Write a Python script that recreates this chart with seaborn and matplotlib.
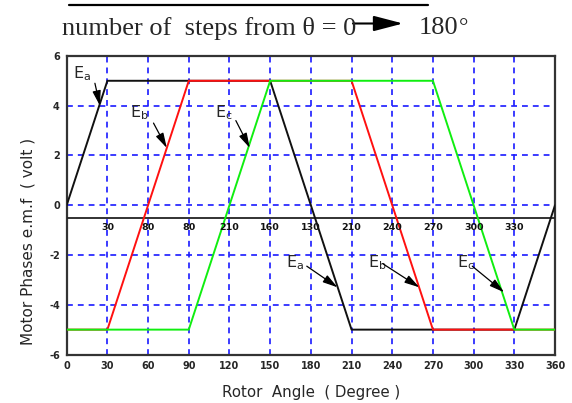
import matplotlib
matplotlib.use("Agg")
import matplotlib.pyplot as plt
from matplotlib.lines import Line2D
from matplotlib.patches import FancyArrowPatch
import seaborn as sns
import pandas as pd

# Phase e.m.f. breakpoints (rotor angle in degrees, volts)
angle_a = [0, 30, 150, 210, 330, 360]
emf_a = [0, 5, 5, -5, -5, 0]
angle_b = [0, 30, 90, 210, 270, 360]
emf_b = [-5, -5, 5, 5, -5, -5]
angle_c = [0, 90, 150, 270, 330, 360]
emf_c = [-5, -5, 5, 5, -5, -5]

# reference level with its step labels
ref_level = -0.5
step_pos = [30, 60, 90, 120, 150, 180, 210, 240, 270, 300, 330]
step_text = ["30", "80", "80", "210", "160", "130", "210", "240", "270", "300", "330"]

x_ticks = [0, 30, 60, 90, 120, 150, 180, 210, 240, 270, 300, 330, 360]
y_ticks = [-6, -4, -2, 0, 2, 4, 6]

sns.set_style("white")
plt.rcParams["font.family"] = ["DejaVu Sans"]
plt.rcParams["axes.unicode_minus"] = False

fig = plt.figure(figsize=(5.72, 4.03), dpi=100)
ax = fig.add_axes([0.1166, 0.1203, 0.8537, 0.741])

df = pd.concat([
    pd.DataFrame({"angle": angle_a, "emf": emf_a, "phase": "a"}),
    pd.DataFrame({"angle": angle_b, "emf": emf_b, "phase": "b"}),
    pd.DataFrame({"angle": angle_c, "emf": emf_c, "phase": "c"}),
])
colors = {"a": "#111111", "b": "#ff1010", "c": "#10ee10"}

ax.axhline(ref_level, color="#222222", lw=1.3, zorder=3)
for z, ph in enumerate(["a", "b", "c"]):
    sns.lineplot(data=df[df.phase == ph], x="angle", y="emf", color=colors[ph],
                 lw=1.4, sort=False, estimator=None, ax=ax, zorder=4 + z,
                 legend=False)

for p, t in zip(step_pos, step_text):
    ax.text(p, ref_level - 0.2, t, ha="center", va="top", fontsize=6.8,
            fontweight="bold", color="#111111", zorder=8)

ax.set_xlim(0, 360)
ax.set_ylim(-6, 6)
ax.set_xticks(x_ticks)
ax.set_yticks(y_ticks)
ax.set_xticks(range(15, 360, 30), minor=True)
ax.set_yticks(range(-5, 6, 2), minor=True)
ax.tick_params(axis="both", which="major", direction="in", length=4, width=1,
               labelsize=7, pad=5, color="#333333")
ax.tick_params(axis="both", which="minor", direction="in", length=3, width=1,
               color="#333333")
for lab in ax.get_xticklabels() + ax.get_yticklabels():
    lab.set_fontweight("bold")

for v in x_ticks[1:-1]:
    ax.axvline(v, color="#1a1aff", lw=1.2, ls=(0, (3.5, 3)), zorder=1)
for v in y_ticks[1:-1]:
    ax.axhline(v, color="#1a1aff", lw=1.2, ls=(0, (3.5, 3)), zorder=1)

for s in ax.spines.values():
    s.set_color("#333333")
    s.set_linewidth(1.6)

W, H = 572, 403
ax.set_xlabel("Rotor  Angle  ( Degree )", fontsize=10.8)
ax.xaxis.set_label_coords(0.5, (354.5 - 392) / 298.5)
ax.xaxis.label.set_va("center")
ax.set_ylabel("Motor Phases e.m.f  ( volt )", fontsize=11)
ax.yaxis.set_label_coords((28 - 66.7) / 488.3, (354.5 - 241) / 298.5)
ax.yaxis.label.set_va("center")

# phase labels with pointer arrows
arrow_kw = dict(arrowstyle="-|>,head_length=0.9,head_width=0.25",
                color="black", lw=0.9, shrinkA=0, shrinkB=0)
notes = [
    ("$\\mathregular{E_a}$", (4.5, 5.3), (20.8, 4.9), (24.5, 4.0)),
    ("$\\mathregular{E_b}$", (47, 3.7), (64, 3.3), (73.8, 2.3)),
    ("$\\mathregular{E_c}$", (109, 3.7), (124.7, 3.4), (135, 2.3)),
    ("$\\mathregular{E_a}$", (162, -2.3), (177, -2.45), (199.7, -3.3)),
    ("$\\mathregular{E_b}$", (222, -2.3), (233, -2.35), (260, -3.3)),
    ("$\\mathregular{E_c}$", (287.5, -2.3), (299, -2.45), (322.5, -3.5)),
]
for txt, tpos, tail, head in notes:
    ax.text(tpos[0], tpos[1], txt, fontsize=11.5, ha="left", va="center", zorder=9)
    ax.annotate("", xy=head, xytext=tail, arrowprops=arrow_kw, zorder=9)

# heading above the plot
fig.add_artist(Line2D([69 / W, 428 / W], [1 - 5 / H, 1 - 5 / H],
                      color="black", lw=1.6))
serif = ["Liberation Serif", "DejaVu Serif"]
base = 1 - 34.5 / H
fig.text(62 / W, base, "number of  steps from \u03b8 = 0", fontsize=19,
         family=serif, ha="left", va="baseline")
fig.add_artist(FancyArrowPatch(
    (353 / W, 1 - 23.5 / H), (403 / W, 1 - 23.5 / H), transform=fig.transFigure,
    arrowstyle="-|>,head_length=1.8,head_width=0.47", color="black", lw=1.5,
    mutation_scale=10, shrinkA=0, shrinkB=0))
fig.text(419 / W, base, "180", fontsize=19, family=serif,
         ha="left", va="baseline")
fig.text(459 / W, base, "\u00b0", fontsize=17, family=serif,
         ha="left", va="baseline")

fig.savefig("out.png", dpi=100)
